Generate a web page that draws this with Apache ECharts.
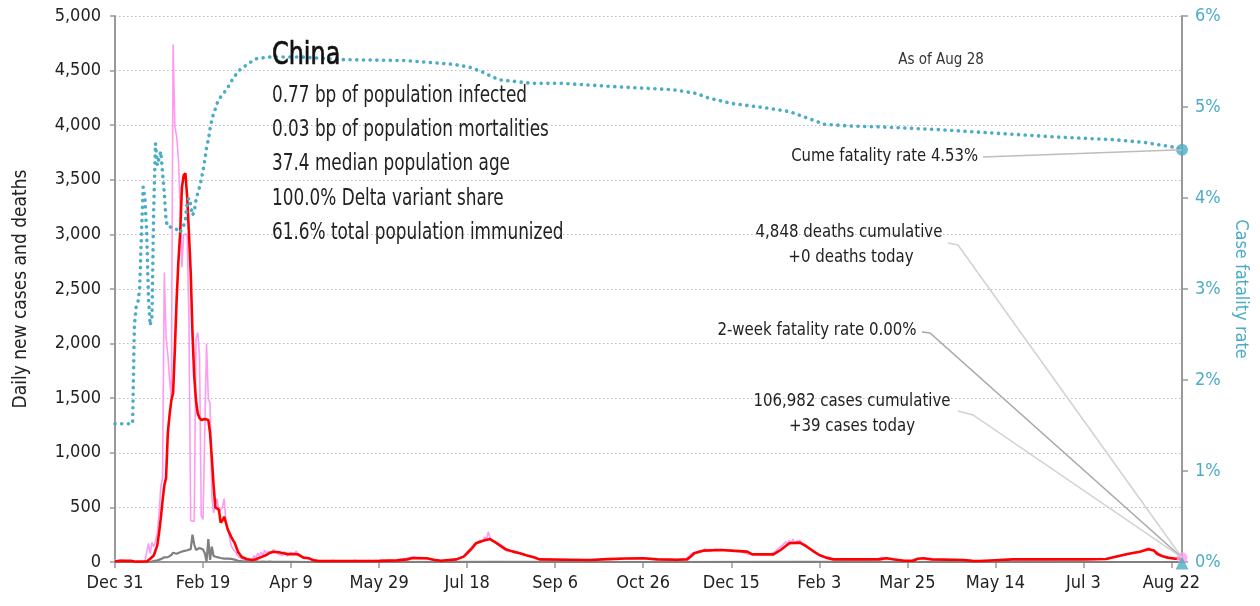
<!DOCTYPE html>
<html>
<head>
<meta charset="utf-8">
<script src="https://cdn.jsdelivr.net/npm/echarts@6/dist/echarts.min.js"></script>
<style>
  html, body { margin: 0; padding: 0; background: #fff; }
  #chart { width: 1260px; height: 606px; }
</style>
</head>
<body>
<div id="chart"></div>
<script>
// Day 0 is Dec 31, 2019; the x axis counts days, with a tick every 50 days.
const tickLabels = ['Dec 31', 'Feb 19', 'Apr 9', 'May 29', 'Jul 18', 'Sep 6', 'Oct 26',
                    'Dec 15', 'Feb 3', 'Mar 25', 'May 14', 'Jul 3', 'Aug 22'];

// Daily new cases, one value per day from day 0
const caseValues = [
  // days 0-17
  27,0,0,17,0,15,0,0,0,0,0,0,0,0,0,0,0,4,
  // days 18-42
  17,170,77,180,140,190,260,440,690,770,2650,2060,1900,1670,1500,4739,3990,3900,3700,3250,2700,3000,3013,3000,2200,
  // days 43-72
  380,370,370,2050,2100,1900,420,390,380,2000,1500,1450,600,450,520,580,450,480,500,580,360,300,230,150,120,100,80,50,40,30,
  // days 73-120
  15,22,18,30,45,20,60,35,80,55,90,60,110,75,95,105,80,115,90,100,70,85,60,95,75,55,70,90,65,80,100,60,75,45,30,40,25,35,20,15,10,8,12,5,10,6,12,8,
  // days 121-600
  4,12,7,15,9,3,11,6,14,8,
  10,5,13,7,9,16,4,11,8,6,
  12,9,5,14,7,10,6,13,9,11,
  8,15,10,6,12,18,9,14,20,11,
  16,22,14,28,19,33,26,41,30,45,
  36,29,42,33,38,27,35,31,24,20,
  16,12,9,14,10,13,8,15,11,18,
  22,19,28,25,34,41,55,48,70,92,
  105,128,140,165,180,172,198,215,190,230,
  205,278,220,196,210,180,168,150,142,128,
  120,105,112,96,88,102,84,90,75,80,
  70,66,58,62,50,45,40,38,30,26,
  22,28,19,25,20,24,18,26,21,23,
  17,25,20,22,16,24,19,21,15,20,
  18,23,16,21,19,14,22,17,20,18,
  24,19,27,22,30,25,21,28,23,26,
  29,24,31,27,33,28,36,30,34,32,
  35,29,38,33,31,37,34,36,32,35,
  30,33,27,31,25,28,22,26,20,24,
  21,23,18,22,19,24,20,23,21,25,
  22,26,24,28,40,55,72,85,78,92,
  98,105,112,96,120,108,101,115,104,110,
  118,106,112,99,114,102,108,95,110,100,
  104,92,98,88,96,90,85,80,76,72,
  70,66,74,68,72,65,70,75,68,73,
  66,72,78,85,95,110,128,140,152,170,
  185,160,198,172,210,165,190,180,200,168,
  150,160,132,140,118,100,92,75,70,60,
  52,45,38,34,30,28,25,22,24,20,
  26,22,24,19,25,21,23,26,20,24,
  22,25,21,27,23,20,24,22,26,21,
  24,28,30,36,42,33,38,30,35,28,
  25,22,18,16,14,12,15,11,13,10,
  12,9,14,18,26,38,32,40,35,30,
  28,24,26,20,22,25,19,23,21,18,
  20,17,22,19,16,21,18,15,20,17,
  16,12,14,10,8,11,7,9,6,10,
  8,12,9,14,11,16,13,18,15,20,
  17,22,19,24,21,26,23,20,25,22,
  24,21,26,23,20,25,22,27,24,21,
  23,26,20,24,22,27,21,25,23,20,
  26,22,24,21,25,23,27,20,24,22,
  25,21,26,23,28,22,24,27,21,25,
  23,26,22,28,25,30,24,27,32,26,
  29,35,31,40,36,45,42,50,47,58,
  55,68,62,75,70,82,78,90,85,95,
  92,100,96,108,115,125,132,118,110,102,
  95,82,78,65,58,50,42,45,36,40,
  // days 601-606
  32,28,35,30,26,39
];

// 7-day average of new cases
const avgDays = [0,2,9,12,18,20,22,24,
  25,26,27,28,29,30,31,32,33,34,35,36,37,38,39,40,41,42,43,44,45,46,47,48,49,50,
  51,52,53,54,55,56,57,58,59,60,61,62,63,64,65,66,67,68,69,70,
  72,75,78,80,83,86,88,90,93,95,98,101,104,107,110,113,116,
  130,150,160,166,169,177,181,185,194,198,200,203,205,209,213,217,222,226,230,234,238,241,
  256,270,280,290,300,308,319,325,327,329,334,344,352,359,362,374,378,383,389,393,397,400,404,408,
  434,438,442,448,453,456,459,464,482,487,491,500,510,548,563,567,575,582,587,590,592,595,598,602,606];
const avgValues = [4,10,10,3,5,30,60,150,
  265,400,560,700,770,1180,1350,1480,1550,1950,2400,2750,3010,3430,3540,3560,3340,3010,2650,2100,1700,1480,1360,1320,1300,1290,
  1310,1320,1300,1180,950,700,500,495,480,360,380,415,360,300,265,230,200,175,130,90,
  46,25,18,25,45,64,85,94,90,82,72,73,70,40,34,15,9,
  9,10,15,24,37,34,20,12,24,49,80,130,171,195,210,171,116,95,80,60,43,24,
  21,18,26,32,34,24,21,24,50,80,104,110,102,95,70,70,110,171,177,140,95,64,40,24,
  24,34,25,12,12,30,34,24,18,10,9,16,24,24,27,43,73,94,116,105,73,52,40,30,33];

// Daily deaths: daily through day 90, then a few later readings
const deathDays = [
  0,1,2,3,4,5,6,7,8,9,10,11,12,13,14,15,16,17,18,19,
  20,21,22,23,24,25,26,27,28,29,30,31,32,33,34,35,36,37,38,39,
  40,41,42,43,44,45,46,47,48,49,50,51,52,53,54,55,56,57,58,59,
  60,61,62,63,64,65,66,67,68,69,70,71,72,73,74,75,76,77,78,79,
  80,81,82,83,84,85,86,87,88,89,90,
  100,110,150,215,300,390,500,606];
const deathValues = [
  0,0,0,0,0,0,0,0,0,0,0,0,0,0,0,0,0,0,0,0,
  1,3,8,16,15,24,26,38,43,46,45,57,64,85,73,76,86,89,97,100,
  105,108,110,118,250,160,110,105,128,136,114,80,5,210,20,140,55,50,44,47,
  37,42,31,38,31,30,28,24,22,17,11,10,8,7,6,5,4,6,3,4,
  5,3,2,4,3,1,2,1,3,2,1,
  1,0,0,2,0,1,0,0];

// Cumulative case fatality rate, percent
const cfrDays = [0,10,
  11,12,13,14,15,16,17,18,19,20,21,22,23,24,25,26,27,28,29,30,
  31,32,33,34,35,36,37,38,39,40,41,42,43,44,45,46,47,48,49,50,
  51,52,53,54,55,56,57,58,59,60,
  62,64,66,68,71,76,80,88,
  105,130,165,192,201,208,218,237,254,287,317,330,337,350,370,383,393,403,419,436,469,502,535,568,585,601,606];
const cfrValues = [1.52,1.52,
  2.6,2.8,2.85,3.0,3.6,4.12,4.0,3.62,2.9,2.6,2.7,3.9,4.6,4.36,4.36,4.51,4.28,4.05,3.75,3.68,
  3.69,3.68,3.67,3.66,3.67,3.65,3.62,3.62,3.7,3.76,3.95,4.0,3.92,3.81,3.85,3.98,4.05,4.12,4.2,4.3,
  4.42,4.55,4.64,4.76,4.86,4.93,4.98,5.04,5.08,5.11,
  5.16,5.21,5.28,5.34,5.41,5.48,5.53,5.55,
  5.55,5.52,5.51,5.47,5.44,5.39,5.30,5.26,5.26,5.22,5.19,5.15,5.10,5.04,4.99,4.95,4.88,4.81,4.79,4.78,4.75,4.71,4.67,4.64,4.61,4.56,4.53];

const infoTitle = 'China';
const infoLines = [
  '0.77 bp of population infected',
  '0.03 bp of population mortalities',
  '37.4 median population age',
  '100.0% Delta variant share',
  '61.6% total population immunized'
];
const asOfText = 'As of Aug 28';
const cumeText = 'Cume fatality rate 4.53%';
const deathsText = ['4,848 deaths cumulative', '+0 deaths today'];
const twoWeekText = '2-week fatality rate 0.00%';
const twoWeekRate = 0;
const casesText = ['106,982 cases cumulative', '+39 cases today'];

const FONT = '"Liberation Sans Narrow", "Arial Narrow", "DejaVu Sans Condensed", sans-serif';
const TEAL = '#4bacc6';
const PINK = '#ff9af0';
const AXIS = '#999';

const pairs = (days, vals) => days.map((d, i) => [d, vals[i]]);
const lastDay = caseValues.length - 1;
const lastCases = caseValues[lastDay];
const lastCfr = cfrValues[cfrValues.length - 1];

const chart = echarts.init(document.getElementById('chart'), null, { renderer: 'canvas' });

const option = {
  animation: false,
  backgroundColor: '#fff',
  textStyle: { fontFamily: FONT },
  grid: { left: 115, right: 78, top: 16, bottom: 44, outerBoundsMode: 'none' },
  xAxis: {
    type: 'value', min: 0, max: lastDay, interval: 50,
    axisLine: { lineStyle: { color: AXIS, width: 2 } },
    axisTick: { length: 6, lineStyle: { color: AXIS, width: 1.5 } },
    axisLabel: {
      fontSize: 18, color: '#222', margin: 12, fontFamily: FONT, showMaxLabel: false,
      formatter: v => (v % 50 === 0 ? tickLabels[v / 50] : '')
    },
    splitLine: { show: false }
  },
  yAxis: [{
    type: 'value', min: 0, max: 5000, interval: 500,
    name: 'Daily new cases and deaths', nameLocation: 'middle', nameGap: 84,
    nameTextStyle: { fontSize: 19, color: '#222', fontFamily: FONT },
    axisLine: { show: true, lineStyle: { color: AXIS, width: 2 } },
    axisTick: { show: true, length: 5, lineStyle: { color: AXIS, width: 1.5 } },
    axisLabel: { fontSize: 18, color: '#222', margin: 14, fontFamily: FONT,
      formatter: v => v.toLocaleString('en-US') },
    splitLine: { show: true, lineStyle: { color: '#bdbdbd', type: [1.5, 2.5], width: 1 } }
  }, {
    type: 'value', position: 'right', min: 0, max: 6, interval: 1,
    name: 'Case fatality rate', nameLocation: 'middle', nameRotate: -90, nameGap: 50,
    nameTextStyle: { fontSize: 18, color: TEAL, fontFamily: FONT },
    axisLine: { show: true, lineStyle: { color: AXIS, width: 2 } },
    axisTick: { show: true, length: 6, lineStyle: { color: AXIS, width: 1.5 } },
    axisLabel: { fontSize: 18, color: TEAL, margin: 13, fontFamily: FONT, formatter: '{value}%' },
    splitLine: { show: false }
  }],
  series: [{
    name: 'New cases', type: 'line', z: 2,
    data: caseValues.map((v, i) => [i, v]),
    showSymbol: false, lineStyle: { color: PINK, width: 1.6 }
  }, {
    name: 'Deaths', type: 'line', z: 3,
    data: pairs(deathDays, deathValues),
    showSymbol: false, lineStyle: { color: '#808080', width: 2.2 }
  }, {
    name: '7-day average', type: 'line', z: 4,
    data: pairs(avgDays, avgValues),
    showSymbol: false, lineStyle: { color: '#ff0000', width: 2.6 }
  }, {
    name: 'Case fatality rate', type: 'line', z: 5, yAxisIndex: 1,
    data: pairs(cfrDays, cfrValues),
    showSymbol: false,
    lineStyle: { color: TEAL, width: 3.6, type: [0.1, 6.6], cap: 'round' }
  }, {
    name: 'Latest cases', type: 'scatter', z: 6,
    data: [[lastDay, lastCases]],
    symbol: 'circle', symbolSize: 11, itemStyle: { color: PINK }
  }, {
    name: 'Latest fatality', type: 'scatter', z: 7, yAxisIndex: 1,
    data: [[lastDay, lastCfr]],
    symbol: 'circle', symbolSize: 12, itemStyle: { color: TEAL }
  }, {
    name: '2-week fatality', type: 'scatter', z: 7, yAxisIndex: 1,
    data: [[lastDay, twoWeekRate]],
    symbol: 'triangle', symbolSize: [13, 13], symbolOffset: [0, 1], itemStyle: { color: TEAL }
  }]
};

chart.setOption(option);

// Annotations: text blocks with connectors running to the latest data point
const endPt = chart.convertToPixel({ seriesIndex: 4 }, [lastDay, lastCases]);
const cfrPt = chart.convertToPixel({ seriesIndex: 5 }, [lastDay, lastCfr]);

// Text is anchored at (x, y) and squeezed horizontally by sx around that anchor
const txt = (text, x, y, size, align, color, sx, bold) => ({
  type: 'text', z: 100, x, y, scaleX: sx || 1,
  style: { text, x: 0, y: 0, font: size + 'px ' + FONT,
    fill: color || '#222', textAlign: align || 'left', textVerticalAlign: 'middle',
    stroke: bold ? (color || '#222') : null, lineWidth: bold ? 0.7 : 0 }
});
const line = (points, color) => ({
  type: 'polyline', z: 90, shape: { points },
  style: { stroke: color, lineWidth: 1.5, fill: null }
});

const graphics = [
  txt(infoTitle, 272, 56, 32, 'left', '#111', 0.83, true),
  ...infoLines.map((t, i) => txt(t, 272, 96 + i * 34.2, 23, 'left', '#222', 0.815)),
  txt(asOfText, 941, 60, 15, 'center', '#333'),
  txt(cumeText, 978, 157, 17, 'right', '#222', 0.97),
  line([[983, 157], cfrPt], '#bdbdbd'),
  txt(deathsText[0], 849, 233, 17, 'center', '#222', 0.98),
  txt(deathsText[1], 851, 258, 17, 'center', '#222', 0.98),
  line([[948, 243], [958, 245], endPt], '#d2d2d2'),
  txt(twoWeekText, 817, 331, 17, 'center', '#222', 0.98),
  line([[922, 332], [930, 333], endPt], '#a8a8a8'),
  txt(casesText[0], 852, 402, 17, 'center', '#222', 0.98),
  txt(casesText[1], 852, 427, 17, 'center', '#222', 0.98),
  line([[958, 411], [973, 415], endPt], '#d2d2d2')
];
chart.setOption({ graphic: graphics });
</script>
</body>
</html>
